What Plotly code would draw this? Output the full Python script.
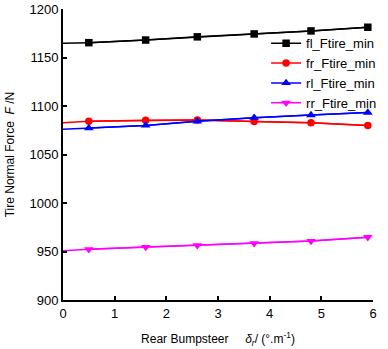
import plotly.graph_objects as go

x_line = [0, 0.5, 1.6, 2.6, 3.7, 4.8, 5.9]
fl = [1164.6, 1165.3, 1168.0, 1171.3, 1174.3, 1177.4, 1181.2]
fr = [1082.8, 1084.2, 1085.2, 1085.6, 1083.9, 1082.8, 1080.0]
rl = [1076.0, 1077.3, 1080.0, 1084.2, 1088.0, 1090.7, 1093.2]
rr = [950.8, 952.3, 954.6, 956.4, 958.5, 960.8, 964.8]

names = ["fl_Ftire_min", "fr_Ftire_min", "rl_Ftire_min", "rr_Ftire_min"]
colors = ["#000000", "#ff0000", "#0000ff", "#ff00ff"]
symbols = ["square", "circle", "triangle-up", "triangle-down"]
sizes = [7.5, 7.5, 8.5, 8.5]
series = [fl, fr, rl, rr]

fig = go.Figure()
for nm, col, sym, sz, ys in zip(names, colors, symbols, sizes, series):
    fig.add_trace(go.Scatter(x=x_line, y=ys, mode="lines",
                             line=dict(color=col, width=1.5),
                             showlegend=False, hoverinfo="skip"))
    fig.add_trace(go.Scatter(x=x_line[1:], y=ys[1:], mode="lines+markers", name=nm,
                             line=dict(color=col, width=1.5),
                             marker=dict(symbol=sym, size=sz, color=col)))

fig.update_layout(
    width=388, height=349,
    margin=dict(l=63, r=6, t=9, b=49),
    paper_bgcolor="white", plot_bgcolor="white",
    font=dict(family="Liberation Sans, Arial", size=13, color="black"),
    legend=dict(x=(272 - 63) / 319, xanchor="left", y=0.934, yanchor="top",
                bgcolor="rgba(0,0,0,0)", font=dict(size=13),
                tracegroupgap=0, itemwidth=30),
    xaxis=dict(range=[0, 6], dtick=1, showgrid=False, zeroline=False,
               showline=True, linecolor="black", linewidth=2, automargin=False,
               ticks="inside", ticklen=4, tickwidth=1.5, tickcolor="black",
               title=dict(text="Rear Bumpsteer     <i>δ<sub>r</sub></i>/ (°.m<sup>-1</sup>)",
                          font=dict(size=12), standoff=15)),
    yaxis=dict(range=[900, 1200], dtick=50, showgrid=False, zeroline=False,
               showline=True, linecolor="black", linewidth=2, automargin=False,
               ticks="inside", ticklen=4, tickwidth=1.5, tickcolor="black",
               title=dict(text="Tire Normal Force  <i>F</i> /N",
                          font=dict(size=12), standoff=12)),
)

fig.write_html("out.html", config={"displayModeBar": False},
               post_script="document.body.style.margin='0';")
